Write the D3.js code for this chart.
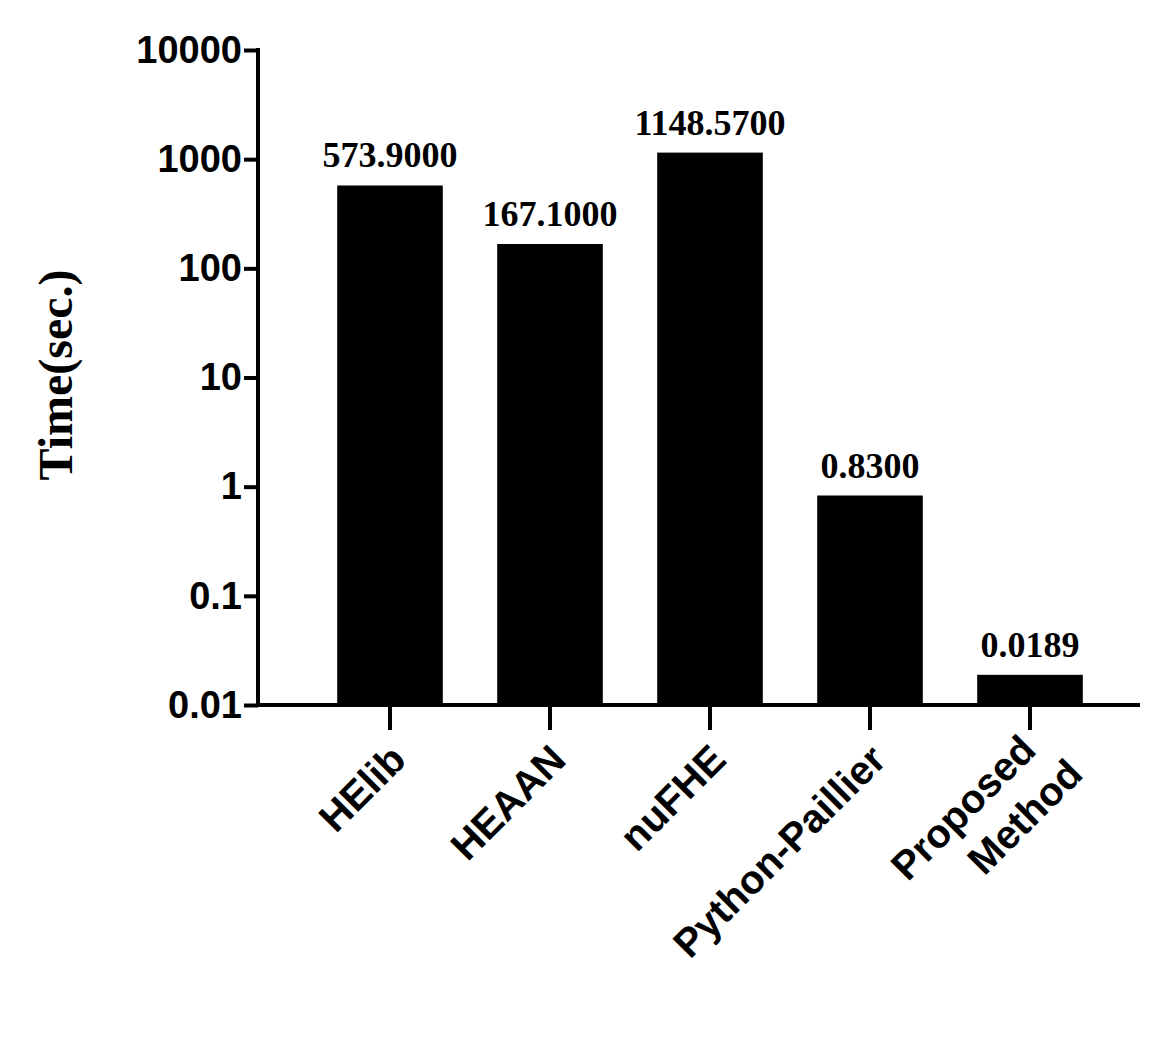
<!DOCTYPE html>
<html><head><meta charset="utf-8">
<script src="https://cdn.jsdelivr.net/npm/d3@7"></script>
<style>body{margin:0;background:#fff}</style>
</head><body>
<svg id="chart" width="1165" height="1043"></svg>
<script>
var methods = ["HElib", "HEAAN", "nuFHE", "Python-Paillier", "Proposed Method"];
var times = [573.9, 167.1, 1148.57, 0.83, 0.0189];
var valueLabels = ["573.9000", "167.1000", "1148.5700", "0.8300", "0.0189"];
var yTicks = [0.01, 0.1, 1, 10, 100, 1000, 10000];
var yTickLabels = ["0.01", "0.1", "1", "10", "100", "1000", "10000"];

var svg = d3.select("#chart");
var x = d3.scaleBand().domain(methods).range([310, 1110]).paddingInner(0.34).paddingOuter(0.17);
var y = d3.scaleLog().domain([0.01, 10000]).range([705, 50]);

// bars
svg.selectAll("rect.bar").data(methods).enter().append("rect")
	.attr("x", d => x(d)).attr("width", x.bandwidth())
	.attr("y", (d, i) => y(times[i])).attr("height", (d, i) => 705 - y(times[i]))
	.attr("fill", "#000");

svg.selectAll("text.val").data(methods).enter().append("text")
	.attr("x", d => x(d) + x.bandwidth() / 2).attr("y", (d, i) => y(times[i]) - 18)
	.attr("text-anchor", "middle").style("font", "bold 36px 'Liberation Serif', serif")
	.text((d, i) => valueLabels[i]);

// y axis
var yAxis = svg.append("g").attr("transform", "translate(258,0)")
	.call(d3.axisLeft(y).tickValues(yTicks).tickFormat((d, i) => yTickLabels[i]).tickSize(14).tickPadding(2));
yAxis.selectAll("line, path").attr("stroke", "#000").attr("stroke-width", 4);
yAxis.select("path").attr("d", "M0,48V707");
yAxis.selectAll("text").style("font", "bold 38px 'Liberation Sans', Arial, sans-serif").attr("fill", "#000");

// x axis
var xAxis = svg.append("g").attr("transform", "translate(0,705)")
	.call(d3.axisBottom(x).tickSize(25).tickFormat(""));
xAxis.selectAll("line, path").attr("stroke", "#000").attr("stroke-width", 4);
xAxis.select("path").attr("d", "M256,0H1140");

methods.forEach(function (m) {
	var cx = x(m) + x.bandwidth() / 2;
	var parts = m === "Proposed Method" ? ["Proposed", "Method"] : [m];
	var t = svg.append("text").attr("transform", "translate(" + (cx + 18) + ",762) rotate(-45)")
		.attr("text-anchor", "end").style("font", "bold 40px 'Liberation Sans', Arial, sans-serif");
	parts.forEach(function (p, i) {
		t.append("tspan").attr("x", 0).attr("dy", i === 0 ? (parts.length > 1 ? -14 : 0) : 50)
			.attr("dx", i === 1 ? 16 : 0).text(p);
	});
});

svg.append("text").attr("transform", "translate(72,375) rotate(-90)")
	.attr("text-anchor", "middle").style("font", "bold 48px 'Liberation Serif', serif")
	.text("Time(sec.)");
</script>
</body></html>
